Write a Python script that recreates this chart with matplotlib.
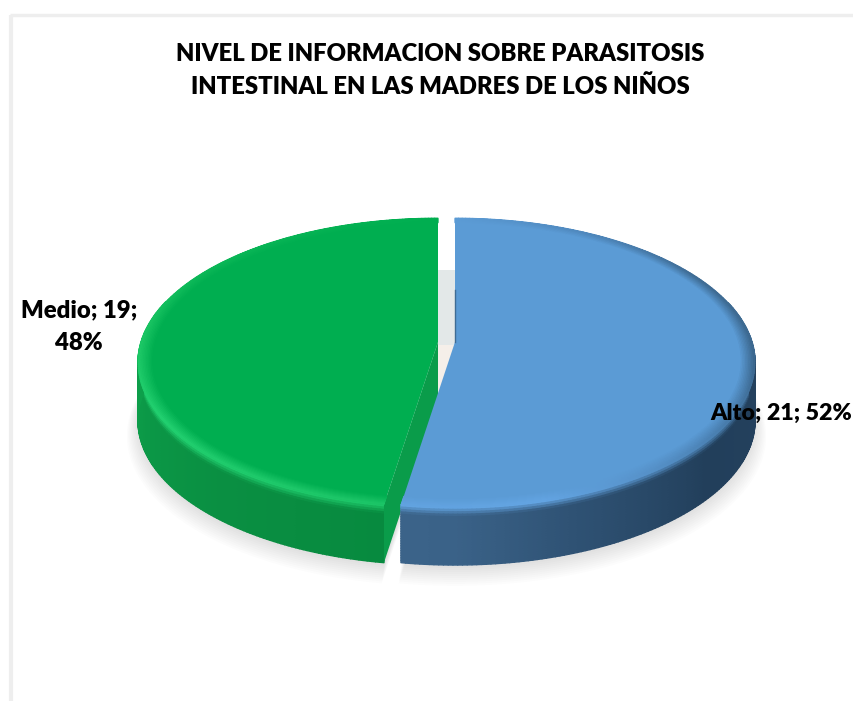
import numpy as np
import matplotlib
matplotlib.use("Agg")
import matplotlib.pyplot as plt
from matplotlib.collections import PolyCollection
from matplotlib.colors import to_rgb

# datos
categorias = ["Alto", "Medio"]
valores = [21, 19]
titulo = "NIVEL DE INFORMACION SOBRE PARASITOSIS\nINTESTINAL EN LAS MADRES DE LOS NIÑOS"

plt.rcParams["font.family"] = ["Lato", "DejaVu Sans"]

# perspectiva del disco
cx, cy = 455.0, 342.0
R, S, k = 297.0, 141.6, 0.142
prof = 58.0
sep_verde = -17.0

cara = {"Alto": "#5b9bd5", "Medio": "#00ae50"}
borde = {
    "Alto": ([0, 30, 60, 100, 130, 165, 189],
             ["#5b9bd5", "#4f88bd", "#3f6c94", "#3c688f", "#4c83b6", "#63a4e2", "#62a3e0"]),
    "Medio": ([189, 240, 270, 300, 360],
              ["#1cc567", "#22d070", "#1cc765", "#0cb858", "#00ae50"]),
}
pared = {
    "Alto": ([90, 130, 160, 180, 189],
             ["#24415e", "#223f5b", "#2f5274", "#3a6288", "#3b6389"]),
    "Medio": ([189, 220, 260, 285, 300],
              ["#078a3f", "#0a8f42", "#0c9c49", "#0ea34c", "#0ea34c"]),
}


def proy(r, th, dx=0.0, dz=0.0):
    # th en grados, sentido horario desde arriba
    t = np.radians(th)
    x, y = r * np.sin(t), r * np.cos(t)
    w = 1 + k * y
    return np.column_stack([cx + dx + R * x / w, cy + dz - S * y / w])


def interp_color(th, knots):
    pos, cols = knots
    rgb = np.array([to_rgb(c) for c in cols])
    return np.column_stack([np.interp(th, pos, rgb[:, i]) for i in range(3)])


def sector(r, a, b, dx=0.0, dz=0.0):
    th = np.linspace(a, b, 200)
    return np.vstack([[cx + dx, cy + dz], proy(r, th, dx, dz)])


fig = plt.figure(figsize=(8.54, 7.01), dpi=100)
ax = fig.add_axes([0, 0, 1, 1])
ax.set_xlim(0, 854)
ax.set_ylim(701, 0)
ax.axis("off")

# marco del grafico
ax.plot([11, 11], [15, 701], color="#eeeeee", lw=3, solid_capstyle="butt")
ax.plot([10, 854], [15, 15], color="#eeeeee", lw=2.5, solid_capstyle="butt")

total = sum(valores)
corte = 360 * valores[0] / total
rangos = {"Alto": (0, corte, 0.0), "Medio": (corte, 360, sep_verde)}

# sombra bajo el disco
for i in range(10):
    for nombre in categorias:
        a, b, dx = rangos[nombre]
        ax.fill(*sector(1 + 0.004 * i, a, b, dx, prof + 3 + 1.2 * i).T,
                color="#808080", alpha=0.024, lw=0)

# hueco entre sectores
ax.fill_between([437, 456], 270, 345, color="#e3e8e8", lw=0)
ax.fill_between([437, 456], 345, 400, color="#f5efe9", lw=0)

for nombre in ["Medio", "Alto"]:
    a, b, dx = rangos[nombre]

    # pared lateral, solo la parte que se ve de frente
    th = np.linspace(a, b, 241)
    tw = th[np.cos(np.radians(th)) < 0.3]
    tws = 0.5 * (tw[:-1] + tw[1:])
    zs = np.linspace(0, prof, 25)
    base = interp_color(tws, pared[nombre])
    alto = interp_color(tws, borde[nombre])
    polys, cols = [], []
    for z0, z1 in zip(zs[:-1], zs[1:]):
        p0 = proy(1.0, tw, dx, z0)
        p1 = proy(1.0, tw, dx, z1)
        mezcla = max(0.0, 1 - (z0 / prof) / 0.14)
        c = base * (1 - mezcla) + alto * mezcla
        for i in range(len(tw) - 1):
            polys.append([p0[i], p0[i + 1], p1[i + 1], p1[i]])
            cols.append(c[i])
    ax.add_collection(PolyCollection(polys, facecolors=cols, edgecolors=cols, linewidths=1.0))

    # pared del corte del sector verde
    if nombre == "Medio":
        es = proy(1.0, np.array([a]), dx)[0]
        ax.fill([cx + dx, es[0], es[0], cx + dx],
                [cy, es[1], es[1] + prof, cy + prof],
                color="#0a9c4a", lw=0)

    # cara superior con bisel
    ax.fill(*sector(1.0, a, b, dx).T, color=cara[nombre], lw=0)
    ths = 0.5 * (th[:-1] + th[1:])
    alto = interp_color(ths, borde[nombre])
    rs = np.linspace(0.955, 1.0, 10)
    fcara = np.array(to_rgb(cara[nombre]))
    polys, cols = [], []
    for r0, r1 in zip(rs[:-1], rs[1:]):
        s = (r1 - rs[0]) / (rs[-1] - rs[0])
        p0 = proy(r0, th, dx)
        p1 = proy(r1, th, dx)
        c = fcara * (1 - s) + alto * s
        for i in range(len(th) - 1):
            polys.append([p0[i], p0[i + 1], p1[i + 1], p1[i]])
            cols.append(c[i])
    ax.add_collection(PolyCollection(polys, facecolors=cols, edgecolors=cols, linewidths=0.6))

# canto oscuro del sector azul hacia el fondo
ax.plot([cx, cx], [290, cy], color="#3f6c94", lw=1.0)

ax.text(440, 70.5, titulo, ha="center", va="center", fontsize=17.2, fontweight="heavy",
        color="black", linespacing=1.58)

# etiquetas de datos
pct = [round(100 * v / total) for v in valores]
ax.text(852, 413, f"{categorias[0]}; {valores[0]}; {pct[0]}%", ha="right", va="center",
        fontsize=16.7, fontweight="heavy", color="black")
ax.text(79, 326.5, f"{categorias[1]}; {valores[1]};\n{pct[1]}%", ha="center", va="center",
        fontsize=17.2, fontweight="heavy", color="black", linespacing=1.58)

fig.savefig("out.png", dpi=100, facecolor="white")
